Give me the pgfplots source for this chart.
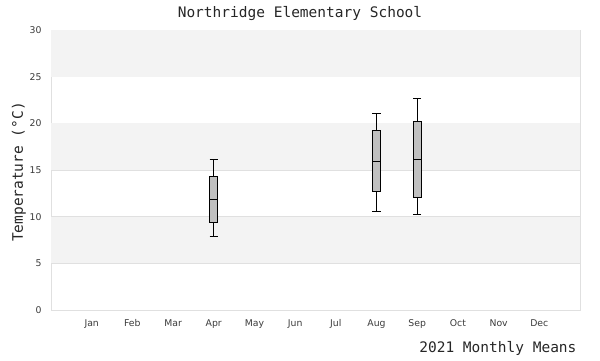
\documentclass[border=0pt]{standalone}
\usepackage{pgfplots}
\pgfplotsset{compat=1.18}
\usepgfplotslibrary{statistics}
\usepackage{fontspec}
\setmainfont{DejaVu Sans}
\newfontfamily\monof{DejaVu Sans Mono}
\definecolor{band}{HTML}{F3F3F3}
\definecolor{gridc}{HTML}{E0E0E0}
\definecolor{tickc}{HTML}{3A3A3A}
\definecolor{boxc}{HTML}{C0C0C0}
\begin{document}
\begin{tikzpicture}
\path[use as bounding box] (0,0) rectangle (600pt,360pt);
\begin{axis}[
  scale only axis,
  width=529pt, height=280pt,
  at={(51pt,50pt)}, anchor=south west,
  xmin=0, xmax=13, ymin=0, ymax=30,
  xtick={1,...,12},
  xticklabels={Jan,Feb,Mar,Apr,May,Jun,Jul,Aug,Sep,Oct,Nov,Dec},
  ytick={0,5,...,30},
  major tick length=0pt,
  ymajorgrids, grid style={gridc, line width=0.8pt},
  axis line style={gridc, line width=0.8pt},
  tick label style={font=\fontsize{9.3}{11}\selectfont, text=tickc},
  /pgf/number format/assume math mode=true,
  xticklabel style={yshift=-6pt},
  yticklabel style={xshift=-6pt},
  boxplot/draw direction=y,
  boxplot/box extend=0.2,
  boxplot/whisker extend=0.2,
]
\fill[band] (axis cs:0,25) rectangle (axis cs:13,30);
\fill[band] (axis cs:0,15) rectangle (axis cs:13,20);
\fill[band] (axis cs:0,5) rectangle (axis cs:13,10);
\addplot[draw=black, fill=boxc, line width=0.9pt, boxplot prepared={draw position=4,
  lower whisker=7.9, lower quartile=9.43, median=11.87, upper quartile=14.33, upper whisker=16.15}]
  coordinates {};
\addplot[draw=black, fill=boxc, line width=0.9pt, boxplot prepared={draw position=8,
  lower whisker=10.57, lower quartile=12.71, median=15.96, upper quartile=19.25, upper whisker=21.07}]
  coordinates {};
\addplot[draw=black, fill=boxc, line width=0.9pt, boxplot prepared={draw position=9,
  lower whisker=10.25, lower quartile=12.07, median=16.14, upper quartile=20.21, upper whisker=22.68}]
  coordinates {};
\end{axis}
\node[font=\monof\fontsize{14.5}{16}\selectfont, text=black!85] at (300pt,346pt) {Northridge Elementary School};
\node[font=\monof\fontsize{14.5}{16}\selectfont, text=black!85, rotate=90] at (19pt,188pt) {Temperature (°C)};
\node[font=\monof\fontsize{14.5}{16}\selectfont, text=black!85, anchor=east] at (580pt,12pt) {2021 Monthly Means};
\end{tikzpicture}
\end{document}
